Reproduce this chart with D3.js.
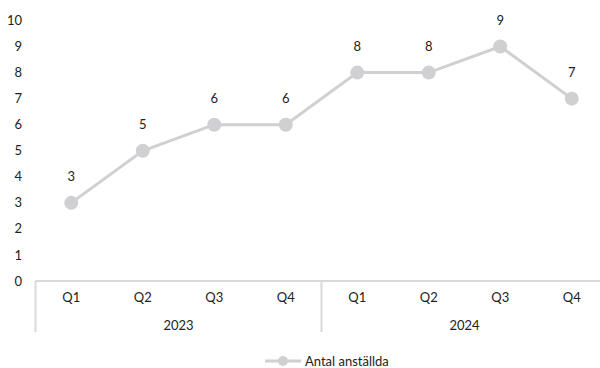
<!DOCTYPE html>
<html>
<head>
<meta charset="utf-8">
<script src="https://cdn.jsdelivr.net/npm/d3@7"></script>
<style>
  body { margin: 0; background: #fff; }
  text { font-family: Lato, "Open Sans", sans-serif; fill: #222; }
</style>
</head>
<body>
<script>
const quarters = ["Q1", "Q2", "Q3", "Q4", "Q1", "Q2", "Q3", "Q4"];
const years = ["2023", "2024"];
const employees = [3, 5, 6, 6, 8, 8, 9, 7];
const yTicks = [0, 1, 2, 3, 4, 5, 6, 7, 8, 9, 10];
const seriesName = "Antal anställda";

const w = 600;
const h = 368;
const fs = 13;
const lineColor = "#d0cfd1";
const axisColor = "#d9d9d9";

const svg = d3.select("body").append("svg").attr("width", w).attr("height", h);

const x = d3.scaleBand()
  .domain(d3.range(quarters.length))
  .range([35.5, 607.5]);

const y = d3.scaleLinear()
  .domain([0, 10])
  .range([281, 20.5]);

// y tick labels
svg.append("g")
  .selectAll("text")
  .data(yTicks)
  .enter()
  .append("text")
  .attr("x", 22)
  .attr("y", (d) => y(d))
  .attr("dy", "0.35em")
  .attr("text-anchor", "end")
  .attr("font-size", fs)
  .text((d) => d);

// x axis line
svg.append("line")
  .attr("x1", x.range()[0]).attr("x2", x.range()[1])
  .attr("y1", y(0)).attr("y2", y(0))
  .attr("stroke", axisColor).attr("stroke-width", 2);

// group separators
const groupSize = quarters.length / years.length;
const seps = d3.range(years.length).map((i) => x(i * groupSize));
svg.append("g")
  .selectAll("line")
  .data(seps)
  .enter()
  .append("line")
  .attr("x1", (d) => d).attr("x2", (d) => d)
  .attr("y1", y(0)).attr("y2", y(0) + 51)
  .attr("stroke", axisColor).attr("stroke-width", 2);

// quarter labels
svg.append("g")
  .selectAll("text")
  .data(quarters)
  .enter()
  .append("text")
  .attr("x", (d, i) => x(i) + x.bandwidth() / 2)
  .attr("y", y(0) + 16)
  .attr("dy", "0.35em")
  .attr("text-anchor", "middle")
  .attr("font-size", fs)
  .text((d) => d);

// year labels
svg.append("g")
  .selectAll("text")
  .data(years)
  .enter()
  .append("text")
  .attr("x", (d, i) => (x(i * groupSize) + x(i * groupSize + groupSize - 1) + x.bandwidth()) / 2)
  .attr("y", y(0) + 44)
  .attr("dy", "0.35em")
  .attr("text-anchor", "middle")
  .attr("font-size", fs)
  .text((d) => d);

// line
const line = d3.line()
  .x((d, i) => x(i) + x.bandwidth() / 2)
  .y((d) => y(d));

svg.append("path")
  .datum(employees)
  .attr("d", line)
  .attr("fill", "none")
  .attr("stroke", lineColor)
  .attr("stroke-width", 3);

svg.append("g")
  .selectAll("circle")
  .data(employees)
  .enter()
  .append("circle")
  .attr("cx", (d, i) => x(i) + x.bandwidth() / 2)
  .attr("cy", (d) => y(d))
  .attr("r", 7)
  .attr("fill", lineColor);

// data labels
svg.append("g")
  .selectAll("text")
  .data(employees)
  .enter()
  .append("text")
  .attr("x", (d, i) => x(i) + x.bandwidth() / 2)
  .attr("y", (d) => y(d) - 26)
  .attr("dy", "0.35em")
  .attr("text-anchor", "middle")
  .attr("font-size", fs)
  .text((d) => d);

// legend
const lg = svg.append("g").attr("transform", "translate(265, 361)");
lg.append("line")
  .attr("x1", 0).attr("x2", 36)
  .attr("stroke", lineColor).attr("stroke-width", 3);
lg.append("circle").attr("cx", 18).attr("r", 5).attr("fill", lineColor);
lg.append("text")
  .attr("x", 40)
  .attr("dy", "0.35em")
  .attr("font-size", fs)
  .text(seriesName);
</script>
</body>
</html>
